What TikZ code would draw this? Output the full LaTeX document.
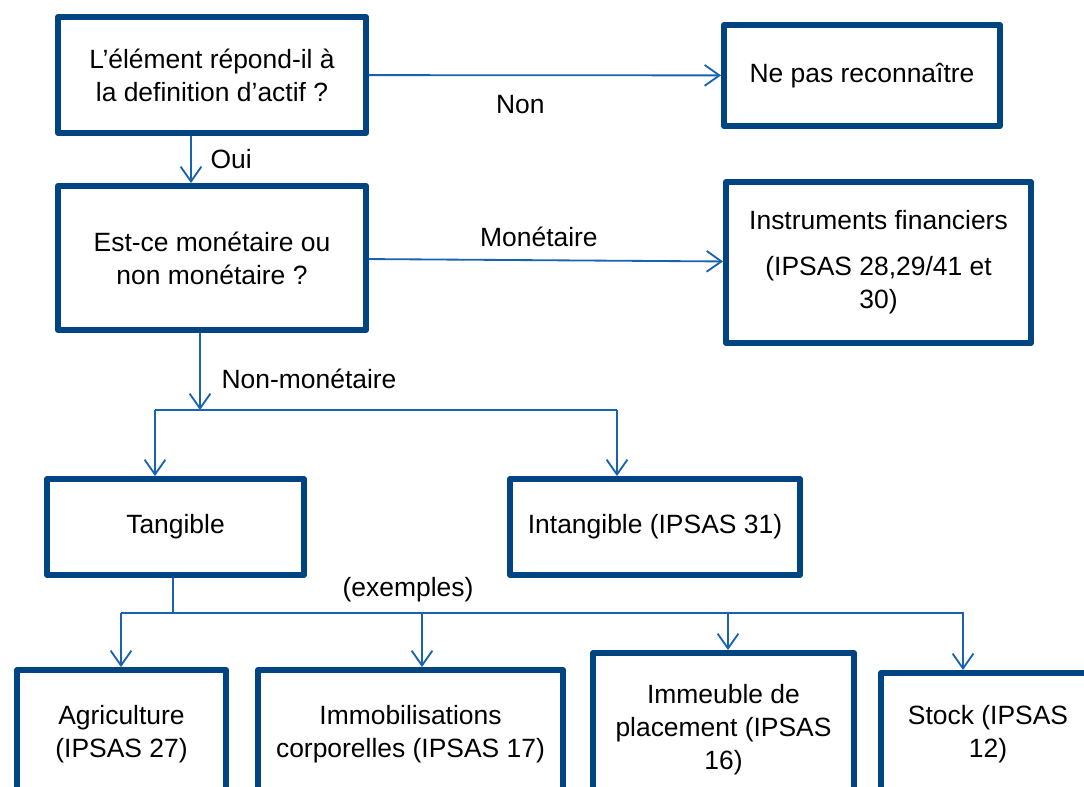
\documentclass[tikz,border=0pt]{standalone}
\usepackage{fontspec}
\setmainfont{Liberation Sans}
\usetikzlibrary{arrows.meta}

\definecolor{boxblue}{RGB}{0,68,130}
\definecolor{linkblue}{RGB}{24,98,178}

\tikzset{
    box/.style={draw=boxblue, line width=4.2pt, line join=round, align=center, inner sep=0pt,
        font=\fontsize{18.8}{23.4}\selectfont},
    lbl/.style={font=\fontsize{18.8}{23.4}\selectfont},
    link/.style={draw=linkblue, line width=1.3pt},
    conn/.style={link, -{Straight Barb[length=0.37cm, width=0.52cm]}},
}

\begin{document}
\begin{tikzpicture}[x=0.025cm, y=-0.025cm]
    \useasboundingbox (0,0) rectangle (1084,787);
    \clip (0,0) rectangle (1084,787);

    % questions
    \node[box, minimum width=7.7cm, minimum height=2.9cm] (def) at (212,75)
	{L’élément répond-il à\\la definition d’actif ?};
    \node[box, minimum width=6.9cm, minimum height=2.525cm] (nepas) at (862,75.5)
	{Ne pas reconnaître};
    \node[box, minimum width=7.7cm, minimum height=3.6cm] (mon) at (212,258)
	{Est-ce monétaire ou\\non monétaire ?};
    \node[box, minimum width=7.625cm, minimum height=4.025cm] (instr) at (878.5,262.5)
	{Instruments financiers\\[0.33cm](IPSAS 28,29/41 et\\30)};

    \node[box, minimum width=6.425cm, minimum height=2.4cm] (tang) at (175.5,527)
	{Tangible};
    \node[box, minimum width=7.25cm, minimum height=2.4cm] (intang) at (655,527)
	{Intangible (IPSAS 31)};

    % exemples
    \node[box, minimum width=5.225cm, minimum height=3.225cm] (agri) at (121.5,734.5)
	{Agriculture\\(IPSAS 27)};
    \node[box, minimum width=7.625cm, minimum height=3.225cm] (immo) at (410.5,734.5)
	{Immobilisations\\corporelles (IPSAS 17)};
    \node[box, minimum width=6.525cm, minimum height=3.85cm] (immeu) at (723.5,730)
	{Immeuble de\\placement (IPSAS\\16)};
    \node[box, minimum width=5.35cm, minimum height=3.075cm] (stock) at (988,734.5)
	{Stock (IPSAS\\12)};

    % arrows
    \coordinate (ouiX) at (191,0);
    \coordinate (split) at (200,410);
    \coordinate (tangIn) at (155,410);
    \coordinate (intangIn) at (617,410);
    \coordinate (exOut) at (173,613);
    \coordinate (exLeft) at (121,613);
    \coordinate (exRight) at (964,613);

    \draw[conn] (def) -- (nepas)
	node [pos=0.43, below=0.35cm, lbl] {Non};
    \draw[conn] (def.south -| ouiX) -- (mon.north -| ouiX)
	node [midway, right=0.35cm, lbl] {Oui};
    \draw[conn] (mon) -- (instr)
	node [pos=0.48, above=0.2cm, lbl] {Monétaire};
    \draw[conn] (mon.south -| split) -- (split)
	node [pos=0.6, right=0.4cm, lbl] {Non-monétaire};

    \draw[link] (tangIn) -- (intangIn);
    \draw[conn] (tangIn) -- (tang.north -| tangIn);
    \draw[conn] (intangIn) -- (intang.north -| intangIn);

    \draw[link] (tang.south -| exOut) -- (exOut);
    \draw[link] (exLeft) -- (exRight);
    \node[lbl] (exlbl) at (408,590) {(exemples)};

    \foreach \n/\x in {agri/121, immo/422, immeu/728, stock/963} {
	\coordinate (\n-in) at (\x,613);
	\draw[conn] (\n-in) -- (\n.north -| \n-in);
    }
\end{tikzpicture}
\end{document}
